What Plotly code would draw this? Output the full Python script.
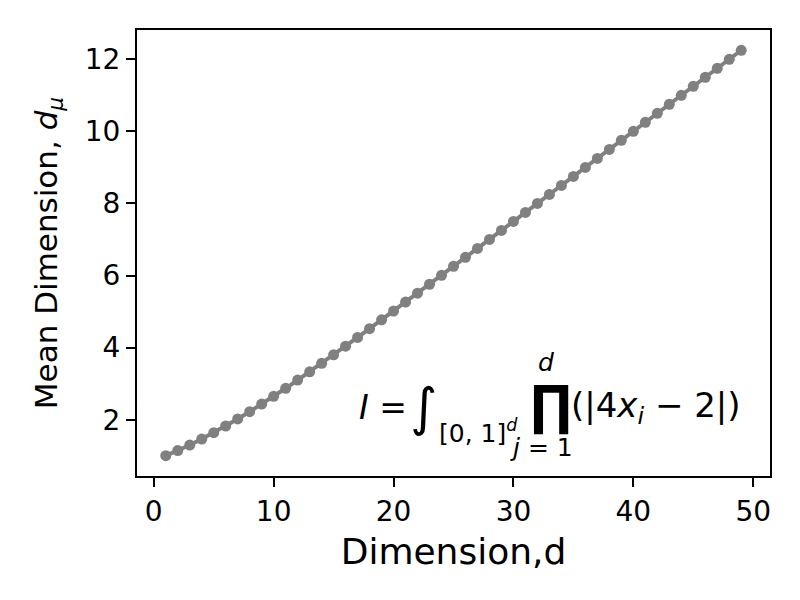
import plotly.graph_objects as go

dimension = list(range(1, 50))
mean_dim = [1.000, 1.143, 1.297, 1.463, 1.639, 1.825, 2.020, 2.223, 2.433, 2.649,
            2.871, 3.098, 3.329, 3.564, 3.801, 4.041, 4.282, 4.526, 4.770, 5.016,
            5.263, 5.510, 5.758, 6.006, 6.255, 6.504, 6.753, 7.002, 7.252, 7.501,
            7.751, 8.001, 8.251, 8.501, 8.750, 9.000, 9.250, 9.500, 9.750, 10.000,
            10.250, 10.500, 10.750, 11.000, 11.250, 11.500, 11.750, 12.000, 12.250]

x_ticks = [0, 10, 20, 30, 40, 50]
y_ticks = [2, 4, 6, 8, 10, 12]

FONT = "DejaVu Sans"

fig = go.Figure()
fig.add_trace(go.Scatter(
    x=dimension, y=mean_dim, mode="lines+markers",
    line=dict(color="#808080", width=4),
    marker=dict(color="#808080", size=11),
    showlegend=False,
))

def ann(x, y, text, size, xanchor="left"):
    fig.add_annotation(x=x, y=y, xref="x", yref="y", text=text, showarrow=False,
                       xanchor=xanchor, yanchor="middle",
                       font=dict(family=FONT, size=size, color="black"))

ann(16.91, 2.33, "<i>I</i> =", 33)
ann(21.2, 2.36, "∫", 52)
ann(23.65, 1.68, "[0, 1]<sup><i>d</i></sup>", 25)
ann(31.2, 2.40, "<b>∏</b>", 54)
ann(32.75, 3.58, "<i>d</i>", 25, xanchor="center")
ann(32.3, 1.22, "<i>j</i> = 1", 25, xanchor="center")
ann(34.6, 2.33, "(|4<i>x<sub>i</sub></i> − 2|)", 34)

axis_common = dict(
    showline=True, mirror=True, linecolor="black", linewidth=2,
    ticks="outside", ticklen=9, tickwidth=2, tickcolor="black",
    showgrid=False, zeroline=False, automargin=False,
    tickfont=dict(family=FONT, size=28, color="black"),
)

fig.update_xaxes(range=[-1.4, 51.4], tickvals=x_ticks,
                 title=dict(text="Dimension,d", font=dict(family=FONT, size=36, color="black"), standoff=12),
                 **axis_common)
fig.update_yaxes(range=[0.4375, 12.8125], tickvals=y_ticks,
                 title=dict(text="Mean Dimension, <i>d</i><sub><i>μ</i></sub>", font=dict(family=FONT, size=31, color="black"), standoff=18),
                 **axis_common)

fig.update_layout(
    width=792, height=592,
    margin=dict(l=129, r=30, t=22, b=124),
    plot_bgcolor="white", paper_bgcolor="white",
    font=dict(family=FONT),
)

fig.write_html("out.html")
